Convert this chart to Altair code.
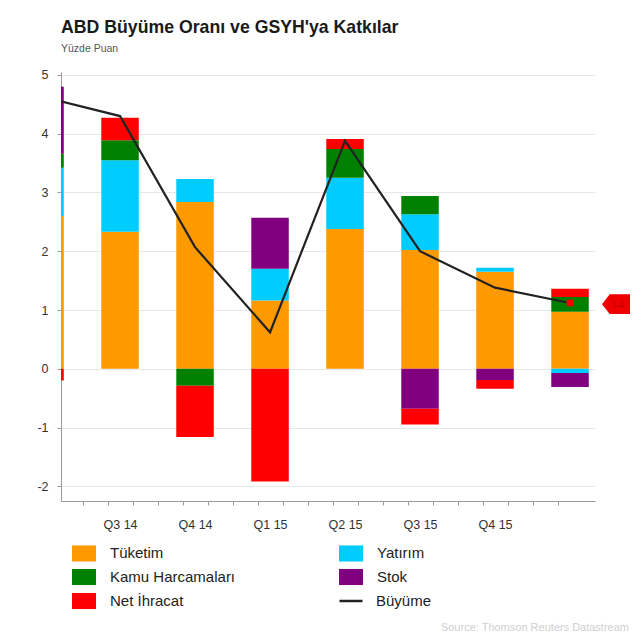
import altair as alt
import pandas as pd

FONT = "Liberation Sans"

quarters = ["Q2 14", "Q3 14", "Q4 14", "Q1 15", "Q2 15", "Q3 15", "Q4 15", "Q1 16"]
label_positions = [1, 2, 3, 4, 5, 6]
components = ["Tüketim", "Yatırım", "Kamu Harcamaları", "Stok", "Net İhracat"]
colors = ["#FF9900", "#00CCFF", "#008000", "#800080", "#FF0000"]
# legend reading order (two columns, filled column by column)
legend_order = ["Tüketim", "Kamu Harcamaları", "Net İhracat", "Yatırım", "Stok"]

tuketim = [2.60, 2.33, 2.84, 1.16, 2.38, 2.02, 1.65, 0.97]
yatirim = [0.82, 1.22, 0.39, 0.54, 0.87, 0.61, 0.07, -0.07]
kamu = [0.24, 0.34, -0.29, 0.00, 0.49, 0.31, 0.00, 0.25]
stok = [1.14, 0.00, 0.00, 0.87, 0.00, -0.68, -0.19, -0.24]
net = [-0.20, 0.38, -0.87, -1.92, 0.17, -0.27, -0.15, 0.14]
buyume = [4.62, 4.30, 2.07, 0.62, 3.88, 2.00, 1.38, 1.12]

marker_value = [1.1]
marker_text = ["1,1"]

title_text = "ABD Büyüme Oranı ve GSYH'ya Katkılar"
subtitle_text = "Yüzde Puan"
source_text = "Source: Thomson Reuters Datastream"

# ---- tables ----
series = [tuketim, yatirim, kamu, stok, net]
rows = []
for i, q in enumerate(quarters):
    for k, (name, vals) in enumerate(zip(components, series)):
        if vals[i] != 0:
            rows.append({"idx": i, "quarter": q, "comp": name, "order": k, "value": vals[i]})
bars_df = pd.DataFrame(rows)
line_df = pd.DataFrame({"idx": list(range(len(quarters))), "growth": buyume,
                        "series": ["Büyüme"] * len(quarters)})
last_df = line_df.tail(1)
marker_df = pd.DataFrame({"v": marker_value, "t": marker_text})
source_df = pd.DataFrame({"t": [source_text]})

color_of = dict(zip(components, colors))
legend_colors = [color_of[c] for c in legend_order]

W, H = 534, 429
x_scale = alt.Scale(domain=[0.213, 7.333], nice=False, zero=False)
y_scale = alt.Scale(domain=[-2.25, 5.05], nice=False, zero=False)
y_axis = alt.Axis(values=list(range(-2, 6)), title=None, grid=True, gridColor="#e8e8e8",
                  domainColor="#9a9a9a", tickColor="#9a9a9a", tickSize=4,
                  labelFont=FONT, labelFontSize=12.5, labelColor="#333", labelPadding=9,
                  labelExpr="datum.value + ''")
tick_vals = [0.5 + k / 3 for k in range(20)]

bars = alt.Chart(bars_df).transform_stack(
    stack="value", groupby=["idx"], as_=["y0", "y1"],
    sort=[alt.SortField("order", order="ascending")]
).transform_calculate(
    x0="datum.idx - 0.25", x1="datum.idx + 0.25"
).mark_bar(clip=True).encode(
    x=alt.X("x0:Q", scale=x_scale,
            axis=alt.Axis(values=tick_vals, labels=False, ticks=True, tickSize=4,
                          tickColor="#9a9a9a", domainColor="#9a9a9a", grid=False,
                          title=None, orient="bottom")),
    x2="x1:Q",
    y=alt.Y("y0:Q", scale=y_scale, axis=y_axis),
    y2="y1:Q",
    color=alt.Color("comp:N", sort=legend_order,
                    scale=alt.Scale(domain=legend_order, range=legend_colors),
                    legend=alt.Legend(orient="none", legendX=11, legendY=469, columns=2,
                                      title=None, padding=0,
                                      symbolType="M-1,-0.67L1,-0.67L1,0.67L-1,0.67Z",
                                      symbolSize=576, symbolStrokeWidth=0, symbolOpacity=1,
                                      labelFont=FONT, labelFontSize=15, labelColor="#222",
                                      labelOffset=14, rowPadding=3, columnPadding=103,
                                      labelLimit=300)),
)

label_expr = "[" + ",".join("'%s'" % q for q in quarters) + "][datum.value]"

line = alt.Chart(line_df).mark_line(clip=True, strokeWidth=2.2).encode(
    x=alt.X("idx:Q", scale=x_scale,
            axis=alt.Axis(values=label_positions, labelExpr=label_expr, ticks=False,
                          tickSize=0, domain=False, grid=False, title=None, orient="bottom",
                          labelFont=FONT, labelFontSize=12.5, labelColor="#333",
                          labelPadding=17)),
    y=alt.Y("growth:Q", scale=y_scale, axis=y_axis),
    stroke=alt.Stroke("series:N", scale=alt.Scale(domain=["Büyüme"], range=["#222222"]),
                      legend=alt.Legend(orient="none", legendX=277, legendY=516, title=None,
                                        padding=0, symbolType="stroke", symbolSize=529,
                                        symbolStrokeWidth=2.5, labelFont=FONT,
                                        labelFontSize=15, labelColor="#222",
                                        labelOffset=12)),
)

last_pt = alt.Chart(last_df).mark_point(shape="square", filled=True, size=45, opacity=1,
                                         color="#FF0000", clip=True).encode(
    x=alt.X("idx:Q", scale=x_scale, axis=None),
    y=alt.Y("growth:Q", scale=y_scale, axis=y_axis),
)

marker = alt.Chart(marker_df).mark_point(
    shape="M-1,0L-0.45,-0.7L1,-0.7L1,0.7L-0.45,0.7Z", filled=True, size=784,
    color="#EE0000", opacity=1).encode(
    x=alt.value(555),
    y=alt.Y("v:Q", scale=y_scale, axis=y_axis),
)
marker_lbl = alt.Chart(marker_df).mark_text(font=FONT, fontSize=9, color="#b00000",
                                            dx=2).encode(
    x=alt.value(555),
    y=alt.Y("v:Q", scale=y_scale, axis=y_axis),
    text="t:N",
)

source = alt.Chart(source_df).mark_text(font=FONT, fontSize=11, color="#cfcfcf",
                                        align="right", baseline="middle").encode(
    x=alt.value(568), y=alt.value(556), text="t:N")

chart = alt.layer(bars, line, last_pt, marker, marker_lbl, source).resolve_axis(
    x="independent"
).properties(
    width=W, height=H,
    background="white",
    autosize=alt.AutoSizeParams(type="none"),
    padding={"left": 53, "top": 64, "right": 36, "bottom": 133},
    title=alt.TitleParams(text=title_text, subtitle=subtitle_text, anchor="start",
                          frame="group", font=FONT, fontSize=17.7, fontWeight="bold",
                          color="#1a1a1a", subtitleFont=FONT, subtitleFontSize=10.5,
                          subtitleColor="#555", subtitlePadding=8, offset=14),
).configure_view(stroke=None)

chart.save("out.html", embed_options={"renderer": "svg", "actions": False})
